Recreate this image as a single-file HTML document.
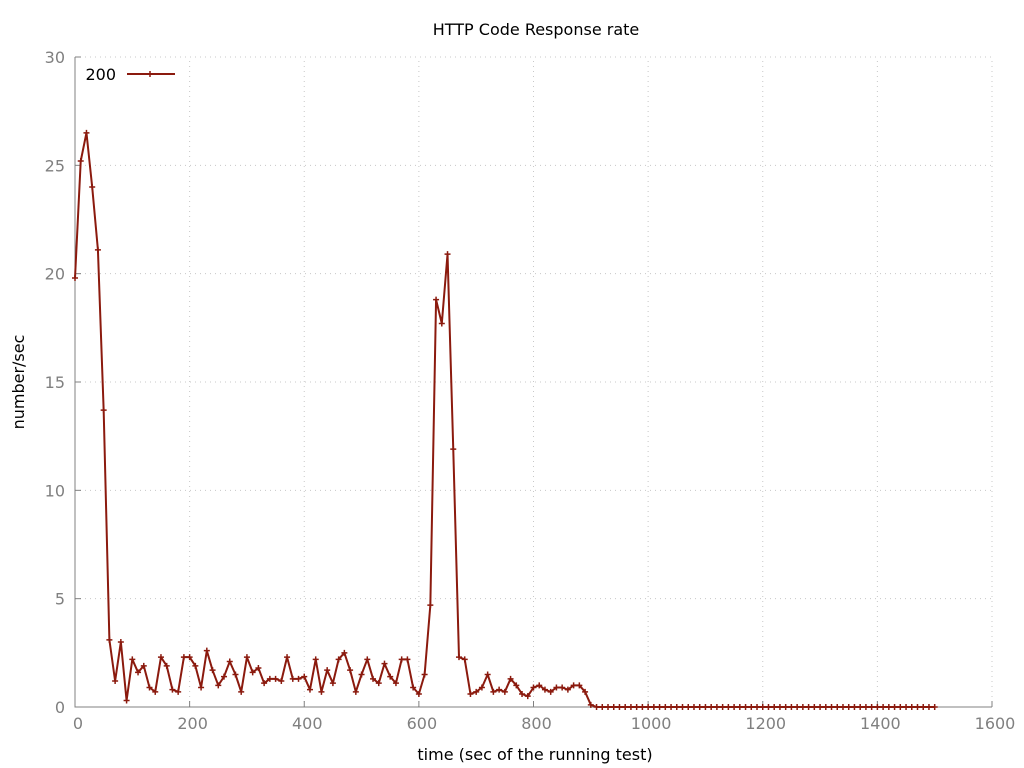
<!DOCTYPE html>
<html><head><meta charset="utf-8"><style>
html,body{margin:0;padding:0;background:#fff;}
svg{display:block;font-family:"DejaVu Sans","Liberation Sans",sans-serif;}
</style></head><body>
<svg id="chart" width="1024" height="768" viewBox="0 0 1024 768" xmlns="http://www.w3.org/2000/svg">
<text x="536" y="35" font-size="16" text-anchor="middle" fill="#000">HTTP Code Response rate</text>
<g id="grid"></g>
<g id="axes"></g>
<text x="0" y="0" font-size="16" text-anchor="middle" transform="translate(24,382) rotate(-90)">number/sec</text>
<text x="535" y="760" font-size="16" text-anchor="middle">time (sec of the running test)</text>
<g id="series"></g>
<g>
<text x="116" y="80" font-size="16" text-anchor="end">200</text>
<line x1="127" y1="74" x2="175" y2="74" stroke="#8b1a0e" stroke-width="2"/>
<path d="M147,74h6M150,71v6" stroke="#8b1a0e" stroke-width="1.5"/>
</g>
</svg>
<script>
const xTicks = [0,200,400,600,800,1000,1200,1400,1600];
const yTicks = [0,5,10,15,20,25,30];
const times = [];
for (let t = 0; t <= 1500; t += 10) times.push(t);
const lowVals = [19.8,25.2,26.5,24.0,21.1,13.7,3.1,1.2,3.0,0.3,2.2,1.6,1.9,0.9,0.7,2.3,1.9,0.8,0.7,2.3,2.3,1.9,0.9,2.6,1.7,1.0,1.4,2.1,1.5,0.7,2.3,1.6,1.8,1.1,1.3,1.3,1.2,2.3,1.3,1.3,1.4,0.8,2.2,0.7,1.7,1.1,2.2,2.5,1.7,0.7,1.5,2.2,1.3,1.1,2.0,1.4,1.1,2.2,2.2,0.9,0.6,1.5,4.7,18.8,17.7,20.9,11.9,2.3,2.2,0.6,0.7,0.9,1.5,0.7,0.8,0.7,1.3,1.0,0.6,0.5,0.9,1.0,0.8,0.7,0.9,0.9,0.8,1.0,1.0,0.7,0.1];
const values = times.map((t,i) => i < lowVals.length ? lowVals[i] : 0);

const X0=75, X1=992, Y0=707, Y1=57;
const xs = v => X0 + (v-0)/(1600-0)*(X1-X0);
const ys = v => Y0 - v/30*(Y0-Y1);
const NS='http://www.w3.org/2000/svg';
const grid=document.getElementById('grid'), axes=document.getElementById('axes'), ser=document.getElementById('series');
function mk(tag, attrs, parent){const e=document.createElementNS(NS,tag);for(const k in attrs)e.setAttribute(k,attrs[k]);parent.appendChild(e);return e;}
xTicks.forEach(v=>{
  const x=xs(v);
  if(v>0){const g=mk('line',{x1:x,y1:Y0,x2:x,y2:Y1,stroke:'#c8c8c8','stroke-width':1,'stroke-dasharray':'1,4'},grid);
  
  }
  const tk=mk('line',{x1:x,y1:Y0,x2:x,y2:Y0-6,stroke:'#808080','stroke-width':1},axes);
  
  
  const t=mk('text',{x:x+3,y:Y0+22,'font-size':16,'text-anchor':'middle',fill:'#808080'},axes);
  t.textContent=v;
  
  
});
yTicks.forEach(v=>{
  const y=ys(v);
  if(v>0){const g=mk('line',{x1:X0,y1:y,x2:X1,y2:y,stroke:'#c8c8c8','stroke-width':1,'stroke-dasharray':'1,4'},grid);
  
  }
  const tk=mk('line',{x1:X0,y1:y,x2:X0+6,y2:y,stroke:'#808080','stroke-width':1},axes);
  
  
  const t=mk('text',{x:65,y:y+6,'font-size':16,'text-anchor':'end',fill:'#808080'},axes);
  t.textContent=v;
  
  
});
const ax=mk('path',{d:`M${X0},${Y1}V${Y0}H${X1}`,fill:'none',stroke:'#808080','stroke-width':1},axes);


const pts=times.map((t,i)=>xs(t).toFixed(2)+','+ys(values[i]).toFixed(2));
const pl=mk('polyline',{points:pts.join(' '),fill:'none',stroke:'#8b1a0e','stroke-width':2,'stroke-linejoin':'round'},ser);


times.forEach((t,i)=>{
  const x=xs(t), y=ys(values[i]);
  const m=mk('path',{d:`M${x-3},${y}h6M${x},${y-3}v6`,stroke:'#8b1a0e','stroke-width':1.5},ser);
  
  
});
</script>
</body></html>
